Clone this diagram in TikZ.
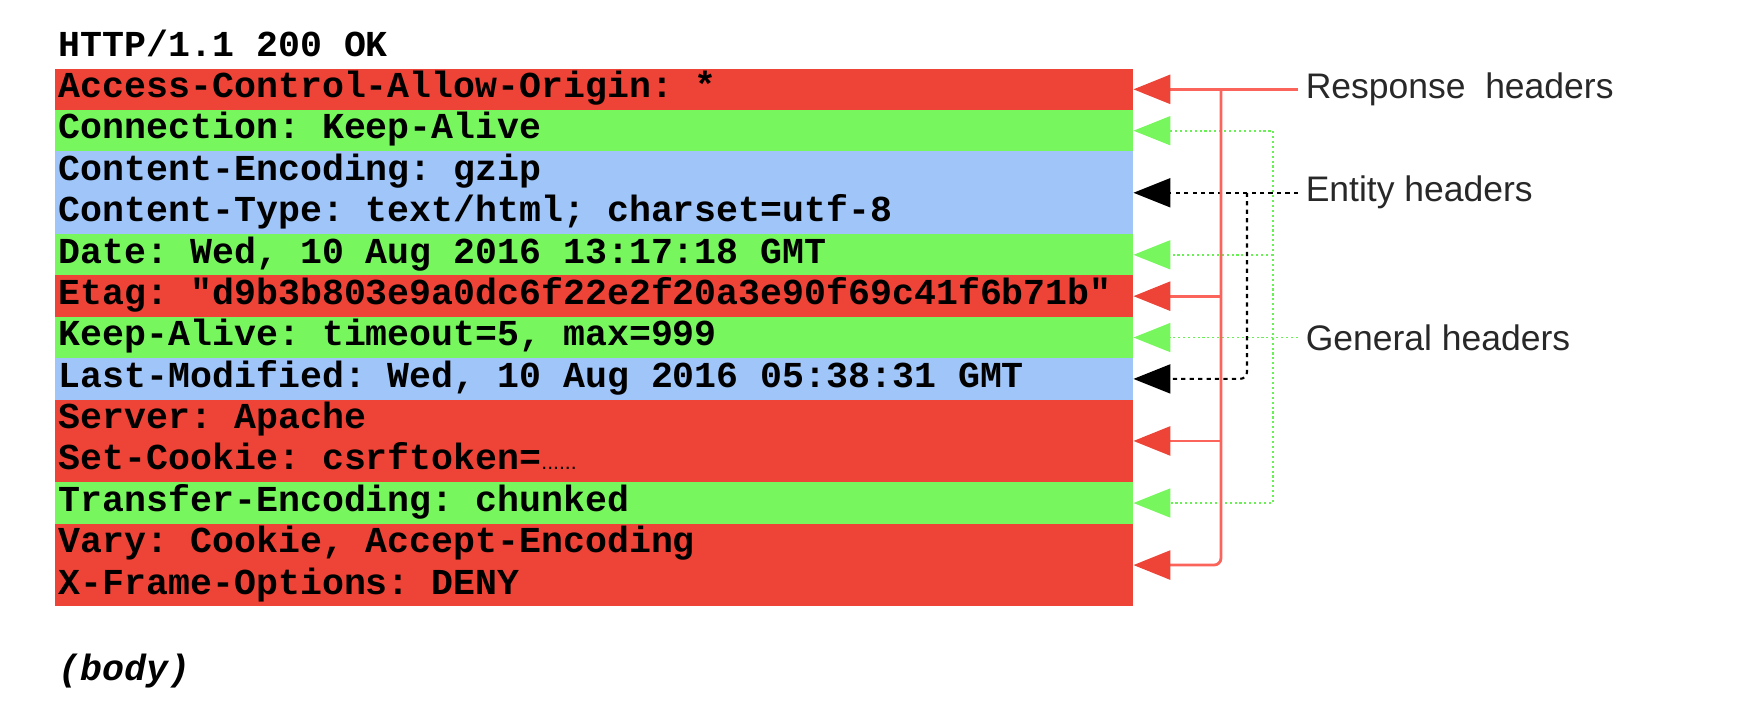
\documentclass[tikz,border=0pt]{standalone}
\usepackage{fontspec}
\setmonofont{Liberation Mono}
\setsansfont{Liberation Sans}
\usetikzlibrary{positioning,arrows.meta}
\definecolor{resred}{RGB}{238,68,55}
\definecolor{resline}{RGB}{250,100,90}
\definecolor{gengreen}{RGB}{119,247,93}
\definecolor{genline}{RGB}{105,240,85}
\definecolor{entblue}{RGB}{160,197,248}
\definecolor{lblgray}{RGB}{40,40,40}
\newcommand{\hdrtt}{\ttfamily\bfseries\fontsize{10.4pt}{11.77pt}\selectfont
  \fontdimen2\font=6.24pt\fontdimen3\font=0pt\fontdimen4\font=0pt\fontdimen7\font=0pt\frenchspacing}

\begin{document}
\begin{tikzpicture}[
  node distance=0pt,
  redhead/.tip={Triangle[length=3.7mm,width=2.9mm,color=resred]},
  greenhead/.tip={Triangle[length=3.7mm,width=2.9mm,color=gengreen]},
  blackhead/.tip={Triangle[length=3.7mm,width=2.9mm,color=black]},
  row/.style={inner xsep=1pt,inner ysep=0pt,outer sep=0pt,text width=10.71cm,align=left,font=\hdrtt,
    execute at begin node={\spaceskip=6.24pt\relax\frenchspacing}},
  resp/.style={row,fill=resred},
  gen/.style={row,fill=gengreen},
  ent/.style={row,fill=entblue},
  lbl/.style={font=\sffamily\fontsize{10.1pt}{12pt}\selectfont,text=lblgray,inner sep=2pt,anchor=west},
  rar/.style={draw=resline,line width=0.8pt,-redhead},
  gar/.style={draw=genline,line width=0.5pt,dash pattern=on 0.6pt off 0.8pt,-greenhead},
  ear/.style={draw=black,line width=0.6pt,dash pattern=on 1.2pt off 1.2pt,-blackhead}]
\useasboundingbox (0,0) rectangle (17.38,-7.2);
% header lines
\node[row,anchor=north west] (http) at (0.554,-0.273) {HTTP/1.1 200 OK\strut};
\node[resp,below=of http] (aco) {Access-Control-Allow-Origin: *\strut};
\node[gen,below=of aco] (conn) {Connection: Keep-Alive\strut};
\node[ent,below=of conn] (cont) {Content-Encoding: gzip\strut\\Content-Type: text/html; charset=utf-8\strut};
\node[gen,below=of cont] (date) {Date: Wed, 10 Aug 2016 13:17:18 GMT\strut};
\node[resp,below=of date] (etag) {Etag: "d9b3b803e9a0dc6f22e2f20a3e90f69c41f6b71b"\strut};
\node[gen,below=of etag] (ka) {Keep-Alive: timeout=5, max=999\strut};
\node[ent,below=of ka] (lm) {Last-Modified: Wed, 10 Aug 2016 05:38:31 GMT\strut};
\node[resp,below=of lm] (srv) {Server: Apache\strut\\Set-Cookie: csrftoken=\strut{\sffamily\mdseries\fontsize{6pt}{6pt}\selectfont ......}};
\node[gen,below=of srv] (te) {Transfer-Encoding: chunked\strut};
\node[resp,below=of te] (vary) {Vary: Cookie, Accept-Encoding\strut\\X-Frame-Options: DENY\strut};
\node[row,below=0.45cm of vary] (body) {\itshape(body)\strut};
% labels and buses
\coordinate (lx) at (12.98,0);
\coordinate (rbus) at (12.21,0);
\coordinate (ebus) at (12.47,0);
\coordinate (gbus) at (12.73,0);
\node[lbl] (rlbl) at (aco.east -| lx) {Response\ \ headers};
\node[lbl] (elbl) at (cont.east -| lx) {Entity headers};
\node[lbl] (glbl) at (ka.east -| lx) {General headers};
% general headers
\draw[gar] (glbl.west) -- (ka.east);
\draw[gar,greenhead-greenhead] (conn.east) -| (te.east -| gbus) -- (te.east);
\draw[gar] (date.east -| gbus) -- (date.east);
% entity headers
\draw[ear] (elbl.west) -- (cont.east);
\draw[ear,rounded corners=2pt] (cont.east -| ebus) |- (lm.east);
% response headers
\draw[rar] (rlbl.west) -- (aco.east);
\draw[rar,rounded corners=2pt] (aco.east -| rbus) |- (vary.east);
\draw[rar] (etag.east -| rbus) -- (etag.east);
\draw[rar] (srv.east -| rbus) -- (srv.east);
\end{tikzpicture}
\end{document}
